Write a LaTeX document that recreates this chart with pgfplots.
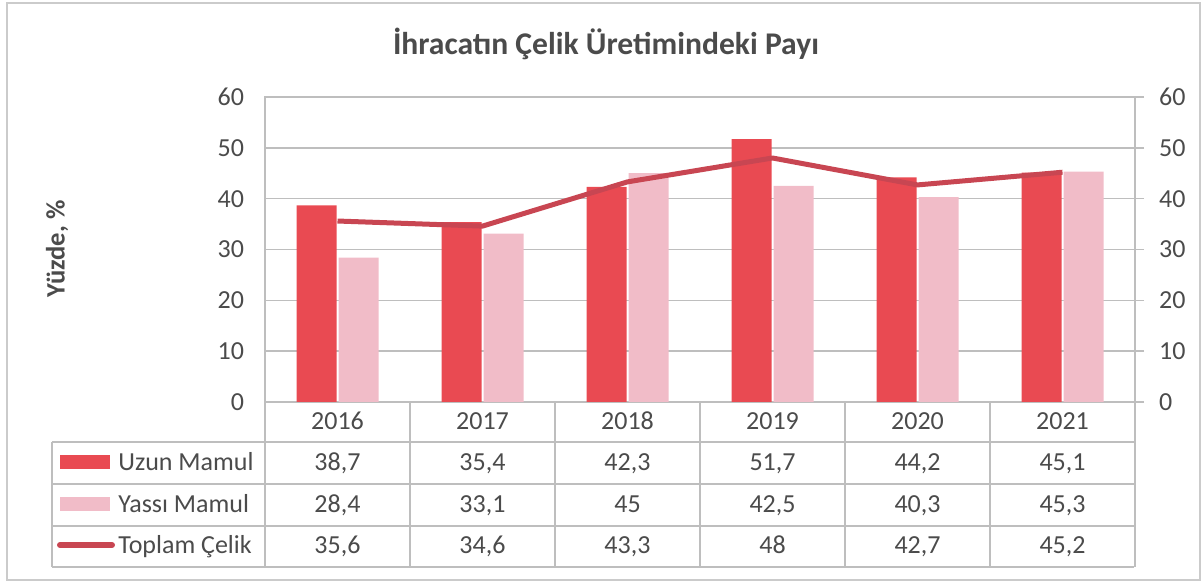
\documentclass[border=0pt]{standalone}
\usepackage{fontspec}
\setmainfont{Carlito}
\usepackage{pgfplots}
\pgfplotsset{compat=1.18}
\definecolor{uzun}{RGB}{233,74,82}
\definecolor{yassi}{RGB}{241,188,200}
\definecolor{toplam}{RGB}{200,70,82}
\definecolor{gridc}{RGB}{190,190,190}
\definecolor{txt}{RGB}{75,75,75}
\begin{document}
\begin{tikzpicture}
\useasboundingbox (0,0) rectangle (602pt,291pt);
\pgfplotsset{
  base/.style={at={(132.5pt,90pt)}, anchor=south west, scale only axis,
    width=435pt, height=152.5pt, xmin=-0.5, xmax=5.5, ymin=0, ymax=60,
    ytick={0,10,...,60},
    /pgf/number format/assume math mode=true,
    axis line style={gridc, line width=0.7pt},
    tick style={gridc, line width=0.7pt},
    yticklabel style={font=\fontsize{13}{15}\selectfont, text=txt}}
}
\begin{axis}[base, xtick=\empty, ymajorgrids, grid style={gridc, line width=0.7pt},
  major tick length=0pt, ytick pos=left, yticklabel style={xshift=-7pt}, clip=false]
\addplot[ybar, bar width=20pt, bar shift=-10.5pt, fill=uzun, draw=none]
  coordinates {(0,38.7)(1,35.4)(2,42.3)(3,51.7)(4,44.2)(5,45.1)};
\addplot[ybar, bar width=20pt, bar shift=10.5pt, fill=yassi, draw=none]
  coordinates {(0,28.4)(1,33.1)(2,45)(3,42.5)(4,40.3)(5,45.3)};
\addplot[sharp plot, line width=2.5pt, color=toplam, mark=none, line join=round]
  coordinates {(0,35.6)(1,34.6)(2,43.3)(3,48)(4,42.7)(5,45.2)};
\end{axis}
\begin{axis}[base, axis x line=none, axis y line*=right, tick align=outside,
  major tick length=4.5pt, yticklabel style={xshift=4pt}]
\addplot[draw=none] coordinates {(0,0)};
\end{axis}
\begin{scope}[x=0.5pt, y=-0.5pt, shift={(0pt,291pt)}]
\draw[gridc!80, line width=0.6pt] (7,3) rectangle (1200,580);
\node[anchor=base, font=\fontsize{15.8}{18}\selectfont\bfseries, text=txt] at (606,55) {İhracatın Çelik Üretimindeki Payı};
\node[rotate=90, font=\fontsize{13.3}{15}\selectfont\bfseries, text=txt] at (57,249) {Yüzde, \%};
% table grid
\foreach \yy in {442,484,526,567} \draw[gridc, line width=0.7pt] (52,\yy) -- (1134,\yy);
\draw[gridc, line width=0.7pt] (52,442) -- (52,567);
\foreach \k in {0,...,6} \draw[gridc, line width=0.7pt] (265+145*\k,402) -- (265+145*\k,567);
% header
\foreach \lab [count=\i from 0] in {2016,2017,2018,2019,2020,2021}
  \node[anchor=base, font=\fontsize{13}{15}\selectfont, text=txt] at (337.5+145*\i,430) {\lab};
\foreach \lab [count=\i from 0] in {{38,7},{35,4},{42,3},{51,7},{44,2},{45,1}}
  \node[anchor=base, font=\fontsize{13}{15}\selectfont, text=txt] at (337.5+145*\i,471) {\lab};
\foreach \lab [count=\i from 0] in {{28,4},{33,1},{45},{42,5},{40,3},{45,3}}
  \node[anchor=base, font=\fontsize{13}{15}\selectfont, text=txt] at (337.5+145*\i,513) {\lab};
\foreach \lab [count=\i from 0] in {{35,6},{34,6},{43,3},{48},{42,7},{45,2}}
  \node[anchor=base, font=\fontsize{13}{15}\selectfont, text=txt] at (337.5+145*\i,554) {\lab};
% legend column
\fill[uzun] (60,455) rectangle (110,469);
\fill[yassi] (60,497) rectangle (110,511);
\draw[toplam, line width=3pt, line cap=round] (60,545) -- (112,545);
\node[anchor=base west, inner sep=0pt, font=\fontsize{13}{15}\selectfont, text=txt] at (118,471) {Uzun Mamul};
\node[anchor=base west, inner sep=0pt, font=\fontsize{13}{15}\selectfont, text=txt] at (118,513) {Yassı Mamul};
\node[anchor=base west, inner sep=0pt, font=\fontsize{13}{15}\selectfont, text=txt] at (118,554) {Toplam Çelik};
\end{scope}
\end{tikzpicture}
\end{document}
